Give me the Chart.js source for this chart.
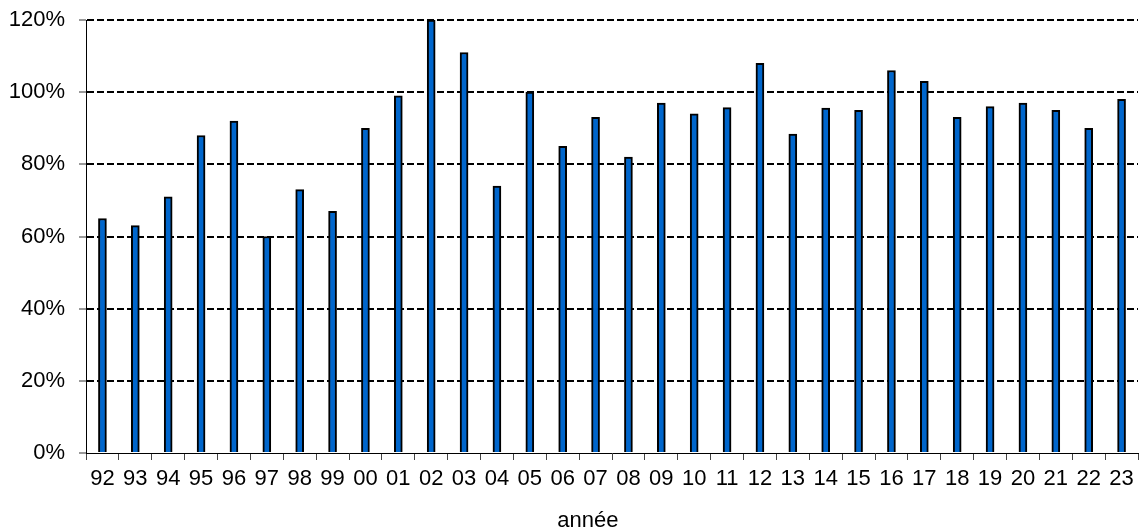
<!DOCTYPE html>
<html>
<head>
<meta charset="utf-8">
<script src="https://cdn.jsdelivr.net/npm/chart.js@4/dist/chart.umd.min.js"></script>
<style>
html,body{margin:0;padding:0;background:#fff;}
#wrap{width:1139px;height:530px;}
</style>
</head>
<body>
<div id="wrap"><canvas id="c" width="1139" height="530"></canvas></div>
<script>
const years = ['92','93','94','95','96','97','98','99','00','01','02','03','04','05','06','07','08','09','10','11','12','13','14','15','16','17','18','19','20','21','22','23'];
const values = [65,63,71,88,92,60,73,67,90,99,120,111,74,100,85,93,82,97,94,95.7,108,88.4,95.6,95,106,103,93,96,97,95,90,98];
const yTickValues = [0,20,40,60,80,100,120];
const xTitle = 'année';

const FONT = '"Liberation Sans", Arial, sans-serif';

const titlePlugin = {
  id: 'xTitle',
  afterDraw(chart) {
    const xs = chart.scales.x;
    const ctx = chart.ctx;
    ctx.save();
    ctx.font = '22px ' + FONT;
    ctx.fillStyle = '#000';
    ctx.textAlign = 'center';
    ctx.textBaseline = 'alphabetic';
    ctx.fillText(xTitle, xs.left + (xs.right - xs.left) * 0.477, xs.bottom - 3);
    ctx.restore();
  }
};

new Chart(document.getElementById('c'), {
  type: 'bar',
  data: {
    labels: years,
    datasets: [{
      data: values,
      backgroundColor: '#0066CC',
      borderColor: '#000',
      borderWidth: 2,
      borderSkipped: 'bottom',
      barThickness: 8
    }]
  },
  options: {
    responsive: false,
    animation: false,
    layout: { padding: { top: 20, right: 1, left: 0, bottom: 0 } },
    plugins: { legend: { display: false }, tooltip: { enabled: false } },
    scales: {
      x: {
        grid: { display: true, drawOnChartArea: false, offset: true, tickLength: 7, color: '#444', lineWidth: 1 },
        border: { display: true, color: '#000', width: 1 },
        ticks: { color: '#000', font: { family: FONT, size: 22 }, padding: 6, maxRotation: 0, autoSkip: false },
        afterFit(s) { s.height = 77; s.paddingLeft = 0; s.paddingRight = 0; }
      },
      y: {
        min: 0, max: 120,
        afterBuildTicks(s) { s.ticks = yTickValues.map(v => ({ value: v })); },
        grid: {
          color: ctx => ctx.tick && ctx.tick.value === 0 ? 'rgba(0,0,0,0)' : '#000',
          lineWidth: 2, tickLength: 7, tickColor: '#333', tickWidth: 1, tickBorderDash: []
        },
        border: { display: true, color: '#000', width: 1, dash: [7, 3] },
        ticks: { color: '#000', font: { family: FONT, size: 22 }, padding: 14, callback: v => v + '%' },
        afterFit(s) { s.width = 86; s.paddingTop = 0; s.paddingBottom = 0; }
      }
    }
  },
  plugins: [titlePlugin]
});
</script>
</body>
</html>
